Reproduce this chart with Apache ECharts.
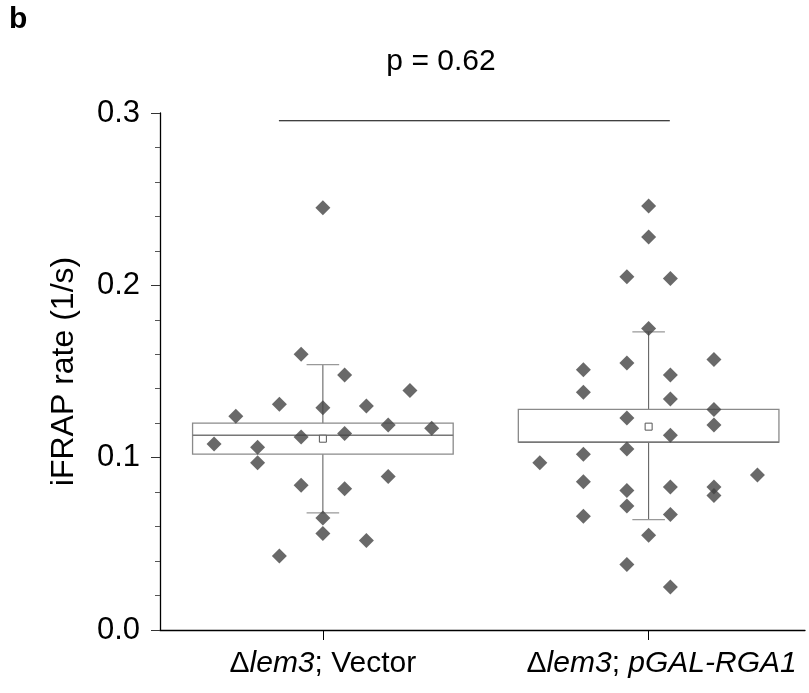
<!DOCTYPE html>
<html>
<head>
	<meta charset="utf-8">
	<title>iFRAP rate</title>
	<script src="https://cdn.jsdelivr.net/npm/echarts@6/dist/echarts.min.js"></script>
	<style>
		html, body { margin: 0; padding: 0; background: #FFFFFF; }
		#chart { width: 809px; height: 693px; }
	</style>
</head>
<body>
<div id="chart"></div>
<script type="text/javascript">
	// group positions on the x axis (1 = Vector, 2 = pGAL-RGA1)
	var groupPos = [1, 2];
	var pText = 'p = 0.62';

	// iFRAP rate of each cell, and its column offset in the scatter
	var vectorValues = [0.245, 0.160, 0.148, 0.139, 0.131, 0.129, 0.130, 0.124, 0.119, 0.117, 0.114,
		0.112, 0.108, 0.106, 0.097, 0.089, 0.084, 0.082, 0.065, 0.056, 0.052, 0.043];
	var vectorCols = [0, -1, 1, 4, -2, 0, 2, -4, 3, 5, 1,
		-1, -5, -3, -3, 3, -1, 1, 0, 0, 2, -2];

	var rgaValues = [0.246, 0.228, 0.205, 0.204, 0.175, 0.157, 0.155, 0.151, 0.148, 0.138, 0.134,
		0.128, 0.123, 0.119, 0.113, 0.105, 0.102, 0.097, 0.090, 0.086, 0.081, 0.083, 0.083, 0.078,
		0.072, 0.066, 0.067, 0.055, 0.038, 0.025];
	var rgaCols = [0, 0, -1, 1, 0, 3, -1, -3, 1, -3, 1,
		3, -1, 3, 1, -1, -3, -5, 5, -3, -1, 1, 3, 3,
		-1, -3, 1, 0, -1, 1];

	// q1, median, q3, mean, whisker low, whisker high
	var vectorBox = [0.102, 0.113, 0.120, 0.111, 0.068, 0.154];
	var rgaBox = [0.109, 0.109, 0.128, 0.118, 0.064, 0.173];

	// significance bracket (x from, x to, y)
	var bracket = [0.865, 2.065, 0.2955];

	var colStep = 0.0668;
	var boxHalf = 0.4;
	var capHalf = 0.05;
	var fontName = '"Liberation Sans", Arial, sans-serif';

	function points(values, cols, pos) {
		return values.map(function (v, i) { return [pos + cols[i] * colStep, v]; });
	}

	var boxData = [
		[groupPos[0]].concat(vectorBox),
		[groupPos[1]].concat(rgaBox)
	];

	function renderBox(params, api) {
		var x = api.value(0);
		var q1 = api.coord([x - boxHalf, api.value(1)]);
		var q3 = api.coord([x + boxHalf, api.value(3)]);
		var med = api.value(2);
		var mL = api.coord([x - boxHalf, med]);
		var mR = api.coord([x + boxHalf, med]);
		var mean = api.coord([x, api.value(4)]);
		var wLo = api.coord([x, api.value(5)]);
		var wHi = api.coord([x, api.value(6)]);
		var capL = api.coord([x - capHalf, 0])[0];
		var capR = api.coord([x + capHalf, 0])[0];
		var boxTop = q3[1], boxBot = q1[1];
		return {
			type: 'group',
			children: [
				{ type: 'line', shape: { x1: wHi[0], y1: wHi[1], x2: wHi[0], y2: boxTop }, style: { stroke: '#555555', lineWidth: 1 } },
				{ type: 'line', shape: { x1: wLo[0], y1: boxBot, x2: wLo[0], y2: wLo[1] }, style: { stroke: '#555555', lineWidth: 1 } },
				{ type: 'line', shape: { x1: capL, y1: wHi[1], x2: capR, y2: wHi[1] }, style: { stroke: '#999999', lineWidth: 1.3 } },
				{ type: 'line', shape: { x1: capL, y1: wLo[1], x2: capR, y2: wLo[1] }, style: { stroke: '#999999', lineWidth: 1.3 } },
				{ type: 'rect', shape: { x: q1[0], y: boxTop, width: q3[0] - q1[0], height: boxBot - boxTop },
					style: { fill: 'none', stroke: '#8a8a8a', lineWidth: 1.3 } },
				{ type: 'line', shape: { x1: mL[0], y1: mL[1], x2: mR[0], y2: mR[1] }, style: { stroke: '#777777', lineWidth: 1.5 } },
				{ type: 'rect', shape: { x: mean[0] - 3.5, y: mean[1] - 3.5, width: 7, height: 7 },
					style: { fill: '#ffffff', stroke: '#555555', lineWidth: 1 } }
			]
		};
	}

	var myChart = echarts.init(document.getElementById('chart'));
	var option = {
		animation: false,
		grid: { left: 160, top: 113, right: 4, bottom: 63 },
		graphic: [
			{ type: 'text', left: 9, top: 5, style: { text: 'b', font: 'bold 30px ' + fontName, fill: '#000' } },
			{ type: 'text', x: 441, y: 62, style: { text: pText, font: '30px ' + fontName, fill: '#000',
				align: 'center', verticalAlign: 'middle' } }
		],
		xAxis: {
			type: 'value',
			min: 0.5,
			max: 2.48,
			splitLine: { show: false },
			axisLine: { lineStyle: { color: '#000', width: 1.3 } },
			axisTick: { customValues: groupPos, length: 10, lineStyle: { color: '#000', width: 1 } },
			axisLabel: {
				customValues: groupPos,
				margin: 19,
				formatter: function (v) {
					return v === 1 ? '{d|Δ}{i|lem3}{n|; Vector}' : '{d2|Δ}{i|lem3}{n|; }{i|pGAL-RGA1}';
				},
				rich: {
					d: { fontSize: 30, fontFamily: 'Liberation Sans', color: '#000' },
					d2: { fontSize: 30, fontFamily: 'Liberation Sans', color: '#000', padding: [0, 0, 0, 26] },
					i: { fontSize: 30, fontFamily: 'Liberation Sans', fontStyle: 'italic', color: '#000' },
					n: { fontSize: 30, fontFamily: 'Liberation Sans', color: '#000' }
				}
			}
		},
		yAxis: {
			type: 'value',
			min: 0,
			max: 0.3,
			interval: 0.1,
			name: 'iFRAP rate (1/s)',
			nameLocation: 'middle',
			nameGap: 80,
			nameTextStyle: { fontSize: 32, fontFamily: 'Liberation Sans', color: '#000' },
			splitLine: { show: false },
			axisLine: { show: true, lineStyle: { color: '#000', width: 1.3 } },
			axisTick: { show: true, length: 9, lineStyle: { color: '#333', width: 1 } },
			minorTick: { show: true, splitNumber: 5, length: 5, lineStyle: { color: '#555' } },
			axisLabel: {
				margin: 20,
				fontSize: 31,
				fontFamily: 'Liberation Sans',
				color: '#000',
				formatter: function (v) { return v.toFixed(1); }
			}
		},
		series: [
			{
				type: 'custom',
				renderItem: renderBox,
				data: boxData,
				z: 2
			},
			{
				type: 'scatter',
				symbol: 'diamond',
				symbolSize: 15,
				itemStyle: { color: '#444444' },
				data: points(vectorValues, vectorCols, groupPos[0]),
				z: 3
			},
			{
				type: 'scatter',
				symbol: 'diamond',
				symbolSize: 15,
				itemStyle: { color: '#444444' },
				data: points(rgaValues, rgaCols, groupPos[1]),
				z: 3
			},
			{
				type: 'line',
				symbol: 'none',
				lineStyle: { color: '#000', width: 1.2 },
				data: [[bracket[0], bracket[2]], [bracket[1], bracket[2]]]
			}
		]
	};
	myChart.setOption(option);
</script>
</body>
</html>
